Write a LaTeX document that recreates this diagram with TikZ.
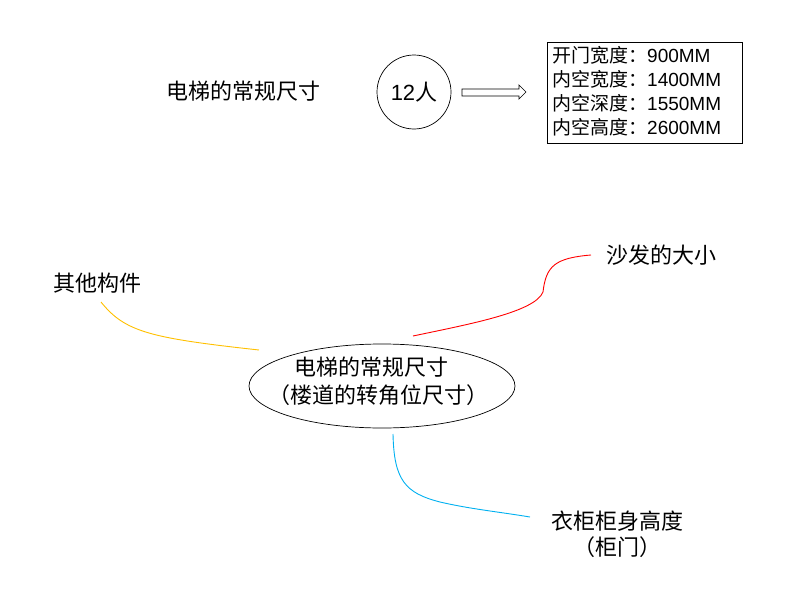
\documentclass[tikz,border=0pt]{standalone}
\usepackage{fontspec}
\usetikzlibrary{shapes.geometric}
\setmainfont{Liberation Sans}
\newfontfamily\cjk{Noto Sans CJK SC}
\begin{document}
\begin{tikzpicture}[x=1pt,y=-1pt,
  lbl/.style={inner sep=0pt,font=\fontsize{22}{26}\selectfont},
  boxline/.style={inner sep=0pt,anchor=west,font=\fontsize{19}{22}\selectfont},
  conn/.style={line width=0.9pt}]
\useasboundingbox (0,0) rectangle (796,589);
% top row
\node[lbl] (title) at (243,91) {\cjk 电梯的常规尺寸};
\node[lbl,draw,circle,minimum size=74pt,line width=0.7pt] (c12) at (414,92) {12{\cjk 人}};
\draw[line width=0.7pt] (462,89) -- (519,89) -- (519,85) -- (526,92) -- (519,99) -- (519,96) -- (462,96) -- cycle;
\node[draw,line width=0.7pt,minimum width=195pt,minimum height=101pt,inner sep=0pt] (box) at (644.5,92.5) {};
\node[boxline] (l1) at (552,55) {{\cjk 开门宽度：}900MM};
\node[boxline] (l2) at (552,79) {{\cjk 内空宽度：}1400MM};
\node[boxline] (l3) at (552,103) {{\cjk 内空深度：}1550MM};
\node[boxline] (l4) at (552,127) {{\cjk 内空高度：}2600MM};
% mind map
\node[draw,ellipse,minimum width=266pt,minimum height=84pt,inner sep=0pt,line width=0.7pt] (ell) at (382,386) {};
\node[lbl] (e1) at (371,367) {\cjk 电梯的常规尺寸};
\node[lbl] (e2) at (378,395) {\cjk （楼道的转角位尺寸）};
\node[lbl] (other) at (97,283) {\cjk 其他构件};
\node[lbl] (sofa) at (661,255) {\cjk 沙发的大小};
\node[lbl] (ward1) at (617,521) {\cjk 衣柜柜身高度};
\node[lbl] (ward2) at (617,547) {\cjk （柜门）};
\coordinate (y0) at (101,302);
\coordinate (y1) at (259,350);
\coordinate (r0) at (413,336);
\coordinate (rm) at (543,292);
\coordinate (r1) at (591,255);
\coordinate (b0) at (393,434);
\coordinate (bm) at (440,502);
\coordinate (b1) at (530,517);
\draw[conn,draw={rgb,255:red,255;green,192;blue,0}] (y0) .. controls (125,332) and (150,338) .. (y1);
\draw[conn,draw={rgb,255:red,255;green,0;blue,0}] (r0) .. controls (470,324) and (535,312) .. (rm) .. controls (546,266) and (555,258) .. (r1);
\draw[conn,draw={rgb,255:red,0;green,176;blue,240}] (b0) .. controls (394,480) and (405,493) .. (bm) .. controls (470,509) and (500,512) .. (b1);
\end{tikzpicture}
\end{document}
